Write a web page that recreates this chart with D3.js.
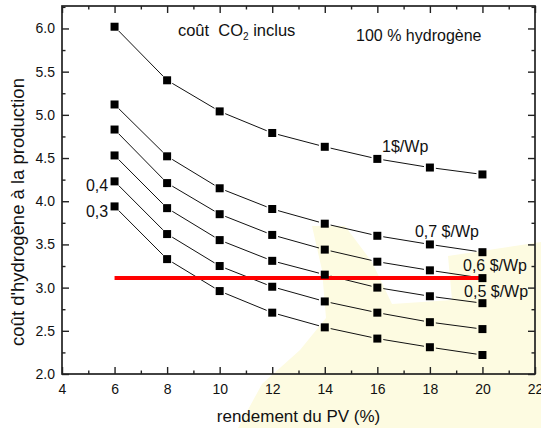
<!DOCTYPE html>
<html>
<head>
<meta charset="utf-8">
<script src="https://cdn.jsdelivr.net/npm/d3@7"></script>
<style>
  body { margin: 0; background: #fff; }
  svg { display: block; }
</style>
</head>
<body>
<svg width="541" height="428"></svg>
<script>
// rendement du PV (%)
const efficiency = [6, 8, 10, 12, 14, 16, 18, 20]

// coût d'hydrogène par prix du module PV
const cost1   = [6.02, 5.40, 5.04, 4.79, 4.63, 4.49, 4.39, 4.31]
const cost07  = [5.12, 4.52, 4.15, 3.91, 3.74, 3.60, 3.50, 3.41]
const cost06  = [4.83, 4.21, 3.85, 3.61, 3.44, 3.30, 3.20, 3.11]
const cost05  = [4.53, 3.92, 3.55, 3.31, 3.15, 3.00, 2.90, 2.82]
const cost04  = [4.23, 3.62, 3.25, 3.01, 2.84, 2.71, 2.60, 2.52]
const cost03  = [3.94, 3.33, 2.96, 2.71, 2.54, 2.41, 2.31, 2.22]
const allSeries = [cost1, cost07, cost06, cost05, cost04, cost03]

// seuil horizontal (ligne rouge)
const threshold = 3.11
const thresholdRange = [6, 20]

const xTicks = [4, 6, 8, 10, 12, 14, 16, 18, 20, 22]
const yTicks = [2.0, 2.5, 3.0, 3.5, 4.0, 4.5, 5.0, 5.5, 6.0]

const width = 541
const height = 428
const font = "'Liberation Sans', Arial, Helvetica, sans-serif"

const x = d3.scaleLinear().domain([4, 22]).range([62, 535])
const y = d3.scaleLinear().domain([2, 6.26]).range([374, 6])

const svg = d3.select("svg")
    .attr("font-family", font)

// faint background logo (bottom right of the scan)
svg.append("path")
    .attr("fill", "#fdfbe1")
    .attr("d", d3.line()([
      [312, 226], [345, 226], [372, 262], [392, 304], [452, 300], [448, 256],
      [541, 242], [541, 428], [238, 428], [262, 384], [300, 350], [326, 318], [322, 270]
    ]))

// frame ticks
const xMinor = d3.range(5, 22, 2)
const yMinor = d3.range(2.25, 6.26, 0.5)

function tickAxes(axisFn, scale, values, size, transform) {
  svg.append("g")
      .attr("transform", transform)
      .call(axisFn(scale).tickValues(values).tickSize(size).tickFormat(""))
      .call(g => g.select(".domain").remove())
      .call(g => g.selectAll("line").attr("stroke", "#222").attr("stroke-width", 1.4))
}
tickAxes(d3.axisBottom, x, xTicks, -7, `translate(0,${y(2)})`)
tickAxes(d3.axisBottom, x, xMinor, -3.5, `translate(0,${y(2)})`)
tickAxes(d3.axisTop, x, xTicks, -7, `translate(0,${y.range()[1]})`)
tickAxes(d3.axisTop, x, xMinor, -3.5, `translate(0,${y.range()[1]})`)
tickAxes(d3.axisLeft, y, yTicks, -7, `translate(${x(4)},0)`)
tickAxes(d3.axisLeft, y, yMinor, -3.5, `translate(${x(4)},0)`)
tickAxes(d3.axisRight, y, yTicks, -7, `translate(${x(22)},0)`)
tickAxes(d3.axisRight, y, yMinor, -3.5, `translate(${x(22)},0)`)

// tick labels
svg.append("g")
    .attr("transform", `translate(0,${y(2)})`)
    .call(d3.axisBottom(x).tickValues(xTicks).tickSize(0).tickPadding(10).tickFormat(d3.format("d")))
    .call(g => g.select(".domain").remove())
    .call(g => g.selectAll("text").attr("font-size", 14).attr("font-family", font).attr("fill", "#111"))

svg.append("g")
    .attr("transform", `translate(${x(4)},0)`)
    .call(d3.axisLeft(y).tickValues(yTicks).tickSize(0).tickPadding(7).tickFormat(d3.format(".1f")))
    .call(g => g.select(".domain").remove())
    .call(g => g.selectAll("text").attr("font-size", 14).attr("font-family", font).attr("fill", "#111"))

// frame
svg.append("rect")
    .attr("x", x(4))
    .attr("y", y.range()[1])
    .attr("width", x(22) - x(4))
    .attr("height", y(2) - y.range()[1])
    .attr("fill", "none")
    .attr("stroke", "#222")
    .attr("stroke-width", 1.7)

// series lines, with small gaps at the markers
const gap = 6
const segments = []
allSeries.forEach(values => {
  for (let i = 1; i < values.length; i++) {
    const x0 = x(efficiency[i - 1]), y0 = y(values[i - 1])
    const x1 = x(efficiency[i]), y1 = y(values[i])
    const len = Math.hypot(x1 - x0, y1 - y0)
    const ux = (x1 - x0) / len, uy = (y1 - y0) / len
    segments.push([x0 + ux * gap, y0 + uy * gap, x1 - ux * gap, y1 - uy * gap])
  }
})

svg.append("g")
    .attr("stroke", "#111")
    .attr("stroke-width", 1)
  .selectAll("line")
  .data(segments)
  .join("line")
    .attr("x1", d => d[0])
    .attr("y1", d => d[1])
    .attr("x2", d => d[2])
    .attr("y2", d => d[3])

// red threshold line
svg.append("line")
    .attr("x1", x(thresholdRange[0]))
    .attr("x2", x(thresholdRange[1]))
    .attr("y1", y(threshold))
    .attr("y2", y(threshold))
    .attr("stroke", "#f00")
    .attr("stroke-width", 4)

// markers
const size = 8
svg.append("g")
    .attr("fill", "#000")
  .selectAll("g")
  .data(allSeries)
  .join("g")
  .selectAll("rect")
  .data(values => values.map((v, i) => [efficiency[i], v]))
  .join("rect")
    .attr("x", d => x(d[0]) - size / 2)
    .attr("y", d => y(d[1]) - size / 2)
    .attr("width", size)
    .attr("height", size)

// annotations
const notes = [
  {text: "1$/Wp", at: [16.18, 4.575]},
  {text: "0,7 $/Wp", at: [17.43, 3.59]},
  {text: "0,6 $/Wp", at: [19.26, 3.198]},
  {text: "0,5 $/Wp", at: [19.30, 2.888]},
  {text: "0,4", at: [4.91, 4.12]},
  {text: "0,3", at: [4.91, 3.82]},
  {text: "100 % hydrogène", at: [15.19, 5.86]}
]
svg.append("g")
    .attr("font-size", 16)
    .attr("fill", "#111")
  .selectAll("text")
  .data(notes)
  .join("text")
    .attr("x", d => x(d.at[0]))
    .attr("y", d => y(d.at[1]))
    .text(d => d.text)

const co2 = svg.append("text")
    .attr("x", x(8.41))
    .attr("y", y(5.907))
    .attr("font-size", 16.5)
    .attr("fill", "#111")
    .style("white-space", "pre")
co2.append("tspan").text("coût  CO")
co2.append("tspan").attr("font-size", 10).attr("dy", 4).text("2")
co2.append("tspan").attr("dy", -4).text(" inclus")

// axis titles
svg.append("text")
    .attr("x", (x(4) + x(22)) / 2)
    .attr("y", 422)
    .attr("text-anchor", "middle")
    .attr("font-size", 17)
    .attr("fill", "#111")
    .text("rendement du PV (%)")

svg.append("text")
    .attr("transform", "translate(24,212) rotate(-90)")
    .attr("text-anchor", "middle")
    .attr("font-size", 18.5)
    .attr("fill", "#111")
    .text("coût d'hydrogène à la production")
</script>
</body>
</html>
